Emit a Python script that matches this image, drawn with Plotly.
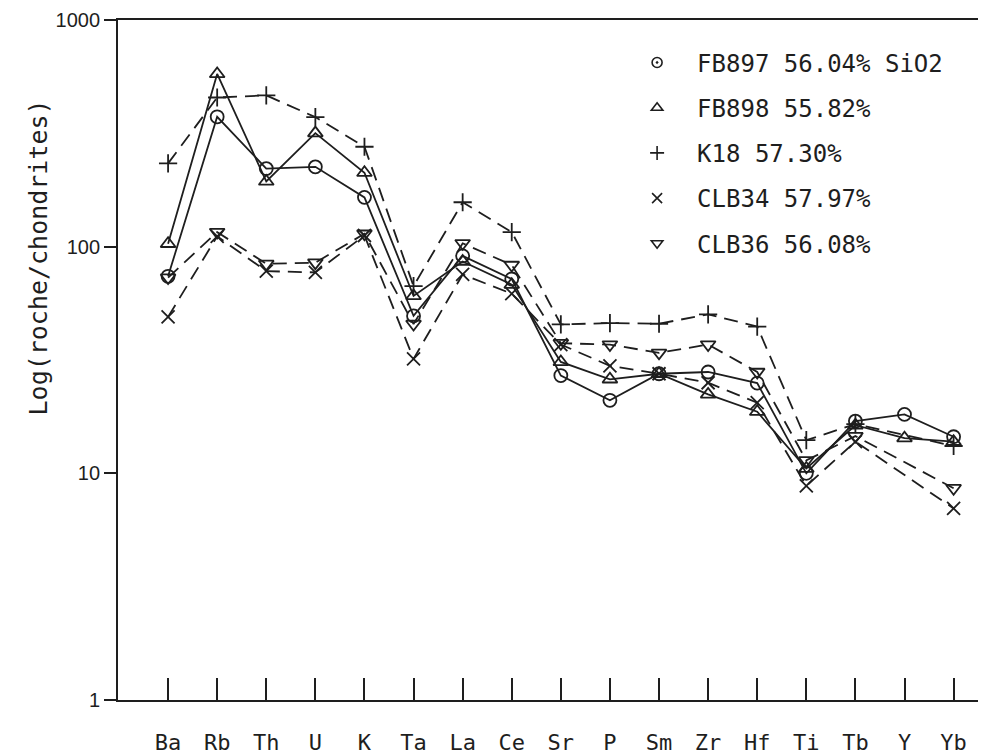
import plotly.graph_objects as go

elements = ["Ba", "Rb", "Th", "U", "K", "Ta", "La", "Ce", "Sr", "P",
            "Sm", "Zr", "Hf", "Ti", "Tb", "Y", "Yb"]

fb897 = [74, 374, 221, 225, 165, 49.5, 91, 72, 27, 21, 27.5, 28, 25, 10.0, 17, 18.2, 14.5]
fb898 = [103, 578, 194, 317, 212, 60.6, 86, 68, 31, 26, 27.5, 22.3, 18.7, 10.5, 16.3, 14.3, 13.8]
k18 = [233, 455, 465, 373, 276, 67, 157, 116, 45.4, 46, 45.7, 50.3, 44.4, 14.0, 16.5, None, 13.2]
clb34 = [49, 111, 78, 77, 112, 32, 75.4, 62, 37, 29.8, 27.5, 25.1, 20.5, 8.8, 13.8, None, 7.0]
clb36 = [73, 116, 84, 85, 114, 45.6, 103.5, 83, 37.5, 37, 34, 37, 28, 11.4, 14.6, None, 8.6]

series_names = ["FB897 56.04% SiO2", "FB898 55.82%", "K18 57.30%", "CLB34 57.97%", "CLB36 56.08%"]
series_values = [fb897, fb898, k18, clb34, clb36]
plot_symbols = ["circle-open", "triangle-up-open", "cross-thin-open", "x-thin-open", "triangle-down-open"]
legend_symbols = ["circle-open-dot", "triangle-up-open", "cross-thin-open", "x-thin-open", "triangle-down-open"]
dashes = ["solid", "solid", "14px,8px", "14px,8px", "14px,8px"]

ink = "#1e1e1e"
xpos = list(range(len(elements)))

fig = go.Figure()
for name, vals, sym, dash in zip(series_names, series_values, plot_symbols, dashes):
    fig.add_trace(go.Scatter(
        x=xpos, y=vals, mode="lines+markers", connectgaps=True,
        line=dict(color=ink, width=1.8, dash=dash),
        marker=dict(symbol=sym, size=13, color=ink, line=dict(color=ink, width=1.8)),
        showlegend=False, name=name,
    ))

for i, (name, sym) in enumerate(zip(series_names, legend_symbols)):
    fig.add_trace(go.Scatter(
        x=[None], y=[None], mode="markers", name=name, legendgroup=f"g{i}",
        marker=dict(symbol=sym, size=10, color=ink, line=dict(color=ink, width=1.6)),
        showlegend=True,
    ))

fig.update_layout(
    width=978, height=746,
    margin=dict(l=110, r=0, t=12, b=54),
    paper_bgcolor="white", plot_bgcolor="white",
    font=dict(family="DejaVu Sans Mono", color=ink),
    legend=dict(
        x=0.575, y=0.97, xanchor="left", yanchor="top",
        font=dict(family="DejaVu Sans Mono", size=24, color=ink),
        tracegroupgap=11, itemwidth=70, bgcolor="rgba(0,0,0,0)",
    ),
    xaxis=dict(
        range=[-1.02, 16.66], tickmode="array", tickvals=xpos, ticktext=elements,
        ticks="inside", ticklen=22, tickwidth=1.5, tickcolor=ink,
        showline=True, linecolor=ink, linewidth=1.8, mirror=True,
        showgrid=False, zeroline=False, ticklabelstandoff=22,
        tickfont=dict(family="DejaVu Sans Mono", size=22, color=ink),
    ),
    yaxis=dict(
        type="log", range=[0, 3], tickmode="array",
        tickvals=[1, 10, 100, 1000], ticktext=["1", "10", "100", "1000"],
        ticks="outside", ticklen=12, tickwidth=1.5, tickcolor=ink,
        showline=True, linecolor=ink, linewidth=1.8, mirror=False,
        showgrid=False, zeroline=False,
        tickfont=dict(family="Liberation Sans", size=20, color=ink),
    ),
    annotations=[dict(
        text="Log(roche/chondrites)", xref="paper", yref="paper",
        x=-0.092, y=0.651, xanchor="center", yanchor="middle",
        textangle=-90, showarrow=False,
        font=dict(family="DejaVu Sans Mono", size=25, color=ink),
    )],
)

fig.write_html("out.html")
